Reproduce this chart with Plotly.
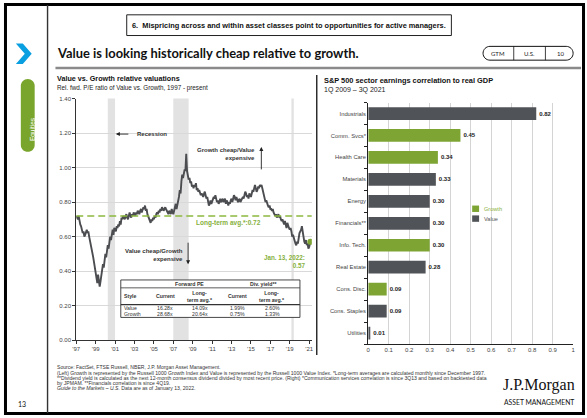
import pandas as pd
import plotly.graph_objects as go

W, H = 587, 418


def px(x):
    return x / W


def py(y):
    return 1 - y / H


# ---------------------------------------------------------------------------
# Left: relative forward P/E of Value vs. Growth (month-start readings)
# ---------------------------------------------------------------------------
rel_pe_1997 = [0.72]
rel_pe_1998 = [0.71, 0.70, 0.72, 0.69, 0.67, 0.66, 0.64, 0.62, 0.63, 0.60, 0.61, 0.62]
rel_pe_1999 = [0.64, 0.62, 0.63, 0.60, 0.58, 0.56, 0.54, 0.51, 0.48, 0.45, 0.42, 0.40]
rel_pe_2000 = [0.37, 0.33, 0.38, 0.35, 0.31, 0.34, 0.38, 0.40, 0.44, 0.42, 0.47, 0.50]
rel_pe_2001 = [0.48, 0.52, 0.55, 0.53, 0.57, 0.60, 0.58, 0.62, 0.64, 0.61, 0.65, 0.64]
rel_pe_2002 = [0.63, 0.66, 0.65, 0.67, 0.66, 0.69, 0.67, 0.71, 0.70, 0.72, 0.71, 0.70]
rel_pe_2003 = [0.72, 0.73, 0.71, 0.70, 0.72, 0.74, 0.72, 0.71, 0.73, 0.72, 0.74, 0.73]
rel_pe_2004 = [0.72, 0.74, 0.73, 0.75, 0.74, 0.73, 0.75, 0.76, 0.74, 0.76, 0.77, 0.76]
rel_pe_2005 = [0.78, 0.75, 0.76, 0.73, 0.72, 0.70, 0.69, 0.68, 0.70, 0.69, 0.71, 0.70]
rel_pe_2006 = [0.72, 0.71, 0.73, 0.74, 0.73, 0.75, 0.74, 0.76, 0.75, 0.77, 0.76, 0.75]
rel_pe_2007 = [0.76, 0.77, 0.76, 0.75, 0.74, 0.73, 0.75, 0.74, 0.73, 0.76, 0.74, 0.73]
rel_pe_2008 = [0.75, 0.77, 0.79, 0.76, 0.78, 0.80, 0.83, 0.87, 0.85, 0.92, 0.96, 0.94]
rel_pe_2009 = [0.97, 0.99, 0.98, 1.08, 0.98, 0.95, 0.93, 0.94, 0.91, 0.92, 0.89, 0.90]
rel_pe_2010 = [0.88, 0.90, 0.89, 0.91, 0.87, 0.88, 0.86, 0.87, 0.85, 0.84, 0.85, 0.84]
rel_pe_2011 = [0.83, 0.85, 0.86, 0.84, 0.82, 0.83, 0.80, 0.78, 0.79, 0.81, 0.79, 0.80]
rel_pe_2012 = [0.81, 0.83, 0.82, 0.84, 0.82, 0.80, 0.81, 0.79, 0.80, 0.82, 0.80, 0.81]
rel_pe_2013 = [0.82, 0.80, 0.81, 0.82, 0.79, 0.81, 0.80, 0.78, 0.80, 0.79, 0.81, 0.82]
rel_pe_2014 = [0.80, 0.82, 0.84, 0.83, 0.81, 0.83, 0.82, 0.80, 0.81, 0.82, 0.80, 0.81]
rel_pe_2015 = [0.82, 0.83, 0.82, 0.84, 0.86, 0.85, 0.83, 0.84, 0.82, 0.85, 0.84, 0.83]
rel_pe_2016 = [0.85, 0.87, 0.86, 0.89, 0.90, 0.88, 0.86, 0.87, 0.89, 0.88, 0.90, 0.89]
rel_pe_2017 = [0.90, 0.88, 0.86, 0.83, 0.82, 0.80, 0.81, 0.79, 0.78, 0.77, 0.78, 0.76]
rel_pe_2018 = [0.76, 0.75, 0.76, 0.74, 0.73, 0.72, 0.73, 0.71, 0.72, 0.73, 0.71, 0.72]
rel_pe_2019 = [0.70, 0.69, 0.70, 0.68, 0.67, 0.69, 0.67, 0.65, 0.68, 0.66, 0.65, 0.64]
rel_pe_2020 = [0.65, 0.63, 0.60, 0.61, 0.59, 0.58, 0.56, 0.55, 0.57, 0.56, 0.60, 0.62]
rel_pe_2021 = [0.63, 0.64, 0.66, 0.61, 0.60, 0.57, 0.56, 0.58, 0.55, 0.56, 0.53, 0.54]
latest_date = "2022-01-13"
latest_value = 0.57
long_term_avg = 0.72

recessions = [("2001-03-01", "2001-11-30"),
              ("2007-12-01", "2009-06-30"),
              ("2020-02-01", "2020-04-30")]

year_ticks = ["'97", "'99", "'01", "'03", "'05", "'07", "'09",
              "'11", "'13", "'15", "'17", "'19", "'21"]
year_tick_dates = ["1997-12-01", "1999-12-01", "2001-12-01", "2003-12-01",
                   "2005-12-01", "2007-12-01", "2009-12-01", "2011-12-01",
                   "2013-12-01", "2015-12-01", "2017-12-01", "2019-12-01",
                   "2021-12-01"]

# Valuation table
table_styles = ["Value", "Growth"]
fwd_pe_current = ["16.28x", "28.68x"]
fwd_pe_avg = ["14.09x", "20.64x"]
div_yield_current = ["1.99%", "0.75%"]
div_yield_avg = ["2.60%", "1.33%"]

# ---------------------------------------------------------------------------
# Right: sector earnings correlation to real GDP
# ---------------------------------------------------------------------------
sectors = ["Industrials", "Comm. Svcs*", "Health Care", "Materials", "Energy",
           "Financials**", "Info. Tech.", "Real Estate", "Cons. Disc.",
           "Cons. Staples", "Utilities"]
correlation = [0.82, 0.45, 0.34, 0.33, 0.30, 0.30, 0.30, 0.28, 0.09, 0.09, 0.01]
sector_style = ["Value", "Growth", "Growth", "Value", "Value", "Value",
                "Growth", "Value", "Growth", "Value", "Value"]

GREEN = "#7ea534"
GREEN_TXT = "#86b03c"
GRAY = "#505357"
LINE_GRAY = "#4b4d50"
TXT = "#333333"
FONT = "Liberation Sans"
style_colors = {"Growth": GREEN, "Value": GRAY}

series = (rel_pe_1997 + rel_pe_1998 + rel_pe_1999 + rel_pe_2000 + rel_pe_2001 +
          rel_pe_2002 + rel_pe_2003 + rel_pe_2004 + rel_pe_2005 + rel_pe_2006 +
          rel_pe_2007 + rel_pe_2008 + rel_pe_2009 + rel_pe_2010 + rel_pe_2011 +
          rel_pe_2012 + rel_pe_2013 + rel_pe_2014 + rel_pe_2015 + rel_pe_2016 +
          rel_pe_2017 + rel_pe_2018 + rel_pe_2019 + rel_pe_2020 + rel_pe_2021)
dates = list(pd.date_range("1997-12-01", periods=len(series), freq="MS"))
dates.append(pd.Timestamp(latest_date))
values = series + [latest_value]

fig = go.Figure()

fig.add_trace(go.Scatter(
    x=dates, y=values, mode="lines",
    line=dict(color=LINE_GRAY, width=1.9),
    xaxis="x", yaxis="y", hoverinfo="skip", showlegend=False))

fig.add_trace(go.Scatter(
    x=[dates[0], "2022-03-10"], y=[long_term_avg, long_term_avg], mode="lines",
    line=dict(color="#8cb83e", width=1.5, dash="7px,4px"),
    xaxis="x", yaxis="y", hoverinfo="skip", showlegend=False))

fig.add_trace(go.Scatter(
    x=[latest_date], y=[latest_value], mode="markers",
    marker=dict(color=GREEN, size=6),
    xaxis="x", yaxis="y", hoverinfo="skip", showlegend=False))

fig.add_trace(go.Bar(
    y=sectors, x=correlation, orientation="h",
    marker=dict(color=[style_colors[s] for s in sector_style], line=dict(width=0)),
    width=0.58,
    texttemplate="%{x:.2f}", textposition="outside",
    textfont=dict(family=FONT, size=6, color="#222", weight="bold"),
    cliponaxis=False,
    xaxis="x2", yaxis="y2", hoverinfo="skip", showlegend=False))

shapes = []
annotations = []


def text(x, y, s, size=6.0, color=TXT, bold=False, italic=False,
         xanchor="left", yanchor="middle", family=FONT, align="left"):
    annotations.append(dict(
        x=px(x), y=py(y), xref="paper", yref="paper", text=s, showarrow=False,
        xanchor=xanchor, yanchor=yanchor, align=align, borderpad=0,
        font=dict(family=family, size=size, color=color,
                  weight="bold" if bold else "normal",
                  style="italic" if italic else "normal")))


def line(x0, y0, x1, y1, color="#000", width=1.0):
    shapes.append(dict(type="line", xref="paper", yref="paper",
                       x0=px(x0), y0=py(y0), x1=px(x1), y1=py(y1),
                       line=dict(color=color, width=width)))


def arrow(xh, yh, ax, ay):
    annotations.append(dict(
        x=px(xh), y=py(yh), xref="paper", yref="paper", text="",
        showarrow=True, ax=ax, ay=ay, arrowhead=2, arrowsize=0.9,
        arrowwidth=0.9, arrowcolor="#222"))


def pt(x, y):
    return f"{px(x):.5f},{py(y):.5f}"


def stadium(x0, y0, x1, y1, vertical):
    k = 0.5523
    if vertical:
        r = (x1 - x0) / 2
        cx = (x0 + x1) / 2
        return (f"M{pt(x0, y0 + r)} C{pt(x0, y0 + r - k * r)} {pt(cx - k * r, y0)} {pt(cx, y0)} "
                f"C{pt(cx + k * r, y0)} {pt(x1, y0 + r - k * r)} {pt(x1, y0 + r)} "
                f"L{pt(x1, y1 - r)} C{pt(x1, y1 - r + k * r)} {pt(cx + k * r, y1)} {pt(cx, y1)} "
                f"C{pt(cx - k * r, y1)} {pt(x0, y1 - r + k * r)} {pt(x0, y1 - r)} Z")
    r = (y1 - y0) / 2
    cy = (y0 + y1) / 2
    return (f"M{pt(x0 + r, y0)} L{pt(x1 - r, y0)} "
            f"C{pt(x1 - r + k * r, y0)} {pt(x1, cy - k * r)} {pt(x1, cy)} "
            f"C{pt(x1, cy + k * r)} {pt(x1 - r + k * r, y1)} {pt(x1 - r, y1)} "
            f"L{pt(x0 + r, y1)} C{pt(x0 + r - k * r, y1)} {pt(x0, cy + k * r)} {pt(x0, cy)} "
            f"C{pt(x0, cy - k * r)} {pt(x0 + r - k * r, y0)} {pt(x0 + r, y0)} Z")


# Recession bands on the left chart
for start, end in recessions:
    shapes.append(dict(type="rect", xref="x", yref="y domain", x0=start, x1=end,
                       y0=0, y1=1, fillcolor="#e2e2e2", line=dict(width=0),
                       layer="below"))

# Page frame and dividers
shapes.append(dict(type="rect", xref="paper", yref="paper",
                   x0=px(1.5), y0=py(416.5), x1=px(585.5), y1=py(1.5),
                   line=dict(color="#000", width=3)))
line(44, 2, 44, 416, color="#333", width=1.4)
line(52, 66, 583, 66, color="#8a8a8a", width=2.5)
line(316, 73, 316, 357, color="#111", width=1.3)

# Header box
shapes.append(dict(type="rect", xref="paper", yref="paper",
                   x0=px(124), y0=py(33), x1=px(452), y1=py(12),
                   line=dict(color="#222", width=1)))
text(288, 22.5, "6.\u00a0 Mispricing across and within asset classes point to opportunities for active managers.",
     size=7.4, bold=True, xanchor="center", color="#111")

# Chevron
chev = [(12, 41), (19, 41), (28, 51.5), (19, 62), (12, 62), (21, 51.5)]
shapes.append(dict(type="path", xref="paper", yref="paper",
                   path="M" + " L".join(pt(a, b) for a, b in chev) + " Z",
                   fillcolor="#0a9fe0", line=dict(width=0)))

# Section tab
shapes.append(dict(type="path", xref="paper", yref="paper",
                   path=stadium(17, 77, 31, 151, True),
                   fillcolor="#7aa52c", line=dict(width=0)))
annotations.append(dict(x=px(24), y=py(114), xref="paper", yref="paper",
                        text="Equities", showarrow=False, textangle=-90,
                        font=dict(family=FONT, size=6.5, color="#ffffff")))

# Title
text(53, 51, "Value is looking historically cheap relative to growth.",
     size=12.9, bold=True, family="Lato", color="#111")

# GTM pill
shapes.append(dict(type="path", xref="paper", yref="paper",
                   path=stadium(484, 44, 575, 58, False),
                   fillcolor="rgba(0,0,0,0)", line=dict(color="#111", width=1)))
line(515, 44, 515, 58, color="#111", width=0.8)
line(547, 44, 547, 58, color="#111", width=0.8)
text(499.5, 51.5, "GTM", size=6, xanchor="center", family="Lato", color="#222")
text(531, 51.5, "U.S.", size=6, xanchor="center", family="Lato", color="#222")
text(562, 51.5, "10", size=6, xanchor="center", family="Lato", color="#222")

# Chart titles
text(53, 77, "Value vs. Growth relative valuations", size=7.2, bold=True, color="#111")
text(53, 86, "Rel. fwd. P/E ratio of Value vs. Growth, 1997 - present", size=6.3, color="#222")
text(322, 78.5, "S&amp;P 500 sector earnings correlation to real GDP", size=7.4, bold=True, color="#111")
text(322, 88.5, "1Q 2009 \u2013 3Q 2021", size=7, color="#222")

# Left chart call-outs
arrow(113, 133, 14, 0)
text(133, 133, "Recession", size=6, bold=True, color="#333")
text(255, 153, "Growth cheap/Value<br>expensive", size=6, bold=True, color="#333",
     xanchor="right", align="right")
arrow(260, 146, 0, 24)
text(182, 255.5, "Value cheap/Growth<br>expensive", size=6, bold=True, color="#333",
     xanchor="right", align="right")
arrow(186, 265, 0, -23)
text(193, 223, f"Long-term avg.*:{long_term_avg:.2f}", size=6.5, bold=True, color=GREEN_TXT)
text(305, 262.5, f"Jan. 13, 2022:<br>{latest_value:.2f}", size=6.3, bold=True,
     color=GREEN_TXT, xanchor="right", align="right")

# Valuation table
tl, tr, tt, tb = 118, 299, 281, 319
shapes.append(dict(type="rect", xref="paper", yref="paper",
                   x0=px(tl), y0=py(tb), x1=px(tr), y1=py(tt),
                   fillcolor="#ffffff", line=dict(color="#333", width=0.9)))
line(tl, 289, tr, 289, color="#333", width=0.8)
line(tl, 306, tr, 306, color="#333", width=1.3)
ts = 5.2
text(187, 285, "Forward PE", size=ts, bold=True, xanchor="center")
text(262, 285, "Div. yield**", size=ts, bold=True, xanchor="center")
text(120.5, 297.5, "Style", size=ts, bold=True)
text(163, 297.5, "Current", size=ts, bold=True, xanchor="center")
text(198, 297.5, "Long-<br>term avg.*", size=ts, bold=True, xanchor="center", align="center")
text(236, 297.5, "Current", size=ts, bold=True, xanchor="center")
text(271, 297.5, "Long-<br>term avg.*", size=ts, bold=True, xanchor="center", align="center")
for i, style in enumerate(table_styles):
    ry = 309.5 + i * 6.5
    text(120.5, ry, style, size=ts)
    text(163, ry, fwd_pe_current[i], size=ts, xanchor="center")
    text(198, ry, fwd_pe_avg[i], size=ts, xanchor="center")
    text(236, ry, div_yield_current[i], size=ts, xanchor="center")
    text(271, ry, div_yield_avg[i], size=ts, xanchor="center")

# Bar legend
for i, (name, col, tcol) in enumerate([("Growth", GREEN, GREEN_TXT), ("Value", GRAY, "#555")]):
    yy = 209 + i * 10
    shapes.append(dict(type="rect", xref="paper", yref="paper",
                       x0=px(473), y0=py(yy + 3), x1=px(480), y1=py(yy - 3.5),
                       fillcolor=col, line=dict(width=0)))
    text(484, yy, name, size=5.6, color=tcol)

# Footnotes
notes = [
    "Source: FactSet, FTSE Russell, NBER, J.P. Morgan Asset Management.",
    "(Left) Growth is represented by the Russell 1000 Growth Index and Value is represented by the Russell 1000 Value Index. *Long-term averages are calculated monthly since December 1997.",
    "**Dividend yield is calculated as the next 12-month consensus dividend divided by most recent price. (Right) *Communication services correlation is since 3Q13 and based on backtested data",
    "by JPMAM. **Financials correlation is since 4Q19.",
]
for i, n in enumerate(notes):
    text(53, 369.5 + i * 5.4, n, size=5.1, color="#333")
text(53, 369.5 + 4 * 5.4, "<i>Guide to the Markets \u2013 U.S.</i> Data are as of January 13, 2022.",
     size=5.1, color="#333")

# Logo and page number
text(541, 388, "J.P.Morgan", size=16, family="Liberation Serif", color="#111", xanchor="center")
text(541, 405, "ASSET MANAGEMENT", size=6.8, family="Lato", color="#111", xanchor="center")
text(18, 407, "13", size=7, family="Lato", color="#111", xanchor="center")

fig.update_layout(
    width=W, height=H,
    margin=dict(l=0, r=0, t=0, b=0),
    paper_bgcolor="#ffffff", plot_bgcolor="rgba(0,0,0,0)",
    showlegend=False, bargap=0.42,
    shapes=shapes, annotations=annotations,
    xaxis=dict(domain=[px(73), px(311)], anchor="y", type="date",
               range=["1997-12-01", "2022-03-10"],
               tickvals=year_tick_dates, ticktext=year_ticks,
               tickfont=dict(family=FONT, size=6, color="#444"),
               showgrid=False, zeroline=False, showline=True,
               linecolor="#333", linewidth=1, ticks="outside", ticklen=3,
               tickcolor="#333", tickwidth=0.8),
    yaxis=dict(domain=[py(342), py(97)], anchor="x", range=[0, 1.4], dtick=0.2,
               tickformat=".2f", tickfont=dict(family=FONT, size=6, color="#444"),
               showgrid=True, gridcolor="#d9d9d9", gridwidth=0.8, zeroline=False,
               showline=True, linecolor="#333", linewidth=1, ticks="outside",
               ticklen=3, tickcolor="#333", tickwidth=0.8),
    xaxis2=dict(domain=[px(368), px(575)], anchor="y2", range=[0, 1], dtick=0.1,
                tickfont=dict(family=FONT, size=6, color="#444"),
                showgrid=True, gridcolor="#d4d4d4", gridwidth=0.8, zeroline=False,
                showline=True, linecolor="#222", linewidth=1.2, ticks=""),
    yaxis2=dict(domain=[py(346), py(101)], anchor="x2", type="category",
                categoryorder="array", categoryarray=sectors[::-1],
                tickfont=dict(family=FONT, size=5.8, color="#444"),
                showgrid=False, zeroline=False, showline=True, linecolor="#222",
                linewidth=1.2, ticks="outside", ticklen=3, tickson="boundaries",
                tickcolor="#222", tickwidth=0.8),
)

fig.write_html("out.html", config={"displayModeBar": False})
